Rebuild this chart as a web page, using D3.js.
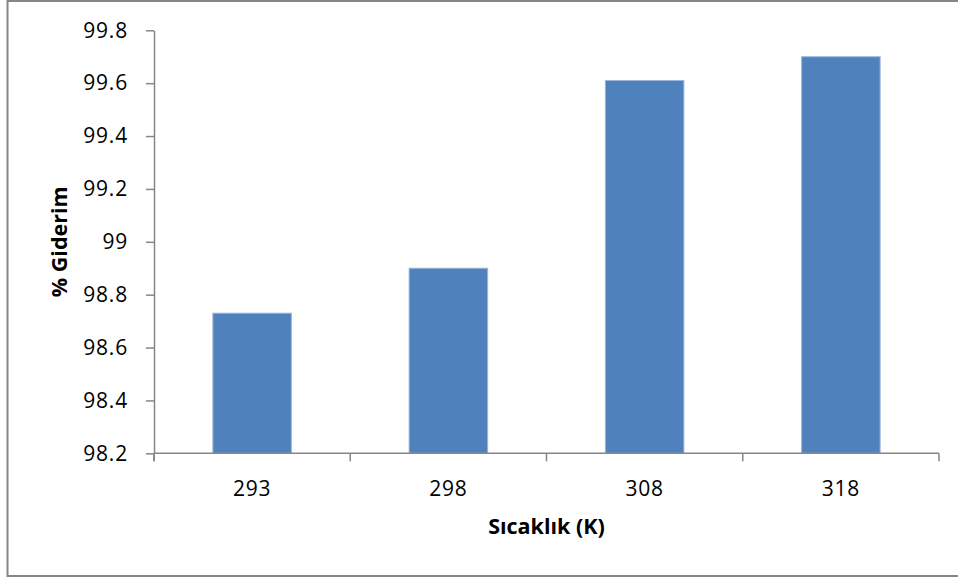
<!DOCTYPE html>
<html><head><meta charset="utf-8">
<script src="https://cdn.jsdelivr.net/npm/d3@7"></script>
<style>
body{margin:0;background:#fff;}
svg{display:block;}
text{font-family:"Open Sans",Lato,sans-serif;fill:#000;}
</style></head>
<body>
<svg id="chart" width="958" height="581"></svg>
<script>
const categories = ["293", "298", "308", "318"];
const values = [98.73, 98.90, 99.61, 99.70];
const yTicks = [98.2, 98.4, 98.6, 98.8, 99, 99.2, 99.4, 99.6, 99.8];
const xTitle = "Sıcaklık (K)";
const yTitle = "% Giderim";

const svg = d3.select("#chart");
const axisColor = "#868686";
const m = {left:154, right:939, top:30.3, bottom:453.3};

svg.append("rect").attr("x",7.5).attr("y",1).attr("width",960).attr("height",575)
  .attr("fill","#fff").attr("stroke",axisColor).attr("stroke-width",2);

const x = d3.scaleBand().domain(categories).range([m.left, m.right]).paddingInner(0.6).paddingOuter(0.3);
const y = d3.scaleLinear().domain([98.2, 99.8]).range([m.bottom, m.top]);

// bars
svg.append("g").selectAll("rect").data(values).join("rect")
  .attr("x",(d,i)=>x(categories[i]))
  .attr("y",d=>y(d))
  .attr("width",x.bandwidth())
  .attr("height",d=>y(98.2)-y(d))
  .attr("fill","#4F81BD")
  .attr("stroke","#9db5d9").attr("stroke-width",1);

// y axis
const ya = svg.append("g").attr("transform",`translate(${m.left},0)`)
  .call(d3.axisLeft(y).tickValues(yTicks).tickFormat(d=>String(+d.toFixed(1))).tickSize(8).tickSizeOuter(0).tickPadding(18));
ya.select(".domain").attr("stroke",axisColor).attr("stroke-width",1.5);
ya.selectAll(".tick line").attr("stroke",axisColor).attr("stroke-width",1.5);
ya.selectAll(".tick text").attr("font-size","21px").attr("letter-spacing","0.8px")
  .attr("font-family","'Open Sans',sans-serif").attr("fill","#000");
// extend y axis below baseline
svg.append("line").attr("x1",m.left).attr("x2",m.left).attr("y1",m.bottom).attr("y2",m.bottom+8)
  .attr("stroke",axisColor).attr("stroke-width",1.5);

// x axis
const xa = svg.append("g").attr("transform",`translate(0,${m.bottom})`)
  .call(d3.axisBottom(x).tickSize(0).tickSizeOuter(0).tickPadding(28));
xa.select(".domain").attr("stroke",axisColor).attr("stroke-width",1.5).attr("d",`M${m.left},0H${m.right}`);
xa.selectAll(".tick text").attr("font-size","21px").attr("letter-spacing","0.8px")
  .attr("font-family","'Open Sans',sans-serif").attr("fill","#000");
// boundary ticks
const bounds = d3.range(categories.length+1).map(i=>m.left + i*x.step());
xa.append("g").selectAll("line").data(bounds).join("line")
  .attr("x1",d=>d).attr("x2",d=>d).attr("y1",0).attr("y2",8)
  .attr("stroke",axisColor).attr("stroke-width",1.5);

// titles
svg.append("text").attr("x",(m.left+m.right)/2).attr("y",534)
  .attr("text-anchor","middle").attr("font-weight","bold").attr("font-size","21.5px")
  .text(xTitle);
svg.append("text").attr("transform",`translate(67,${(m.top+m.bottom)/2}) rotate(-90)`)
  .attr("text-anchor","middle").attr("font-weight","bold").attr("font-size","21.5px")
  .text(yTitle);
</script>
</body></html>
